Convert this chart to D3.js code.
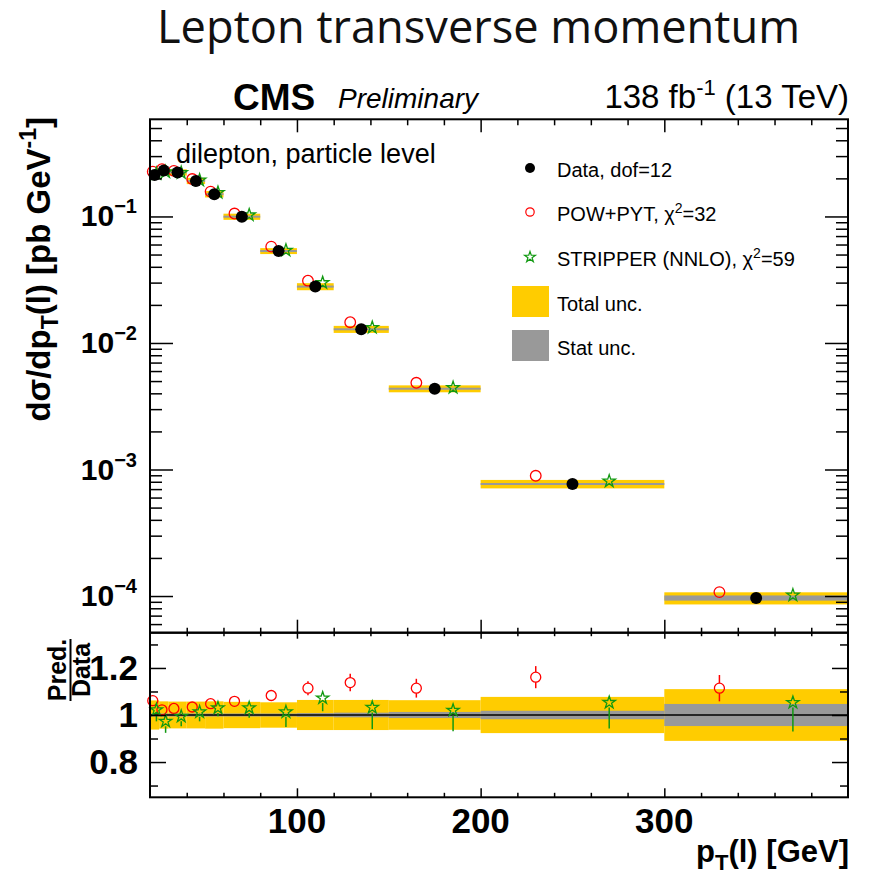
<!DOCTYPE html>
<html><head><meta charset="utf-8">
<script src="https://cdn.jsdelivr.net/npm/d3@7"></script>
<style>body{margin:0;background:#fff} svg{display:block}</style>
</head><body><svg id="c" width="871" height="877"></svg>
<script>
// ---------------- data ----------------
const binEdges = [20, 25, 30, 40, 50, 60, 80, 100, 120, 150, 200, 300, 400];
const dataXsec = [0.213, 0.231, 0.223, 0.191, 0.150, 0.0996, 0.0533, 0.0279, 0.01283, 0.00435, 0.000768, 0.0000964];
const powXsec = [0.2260, 0.2361, 0.2292, 0.1975, 0.1572, 0.1054, 0.05772, 0.03108, 0.01460, 0.004846, 0.0008916, 0.0001074];
const stripperXsec = [0.2177, 0.2248, 0.2217, 0.1935, 0.1545, 0.1026, 0.05399, 0.02991, 0.01324, 0.004437, 0.0008087, 0.0001015];
const totUnc = [0.062, 0.058, 0.057, 0.057, 0.058, 0.056, 0.054, 0.064, 0.064, 0.063, 0.077, 0.110];
const statUnc = [0.005, 0.005, 0.004, 0.004, 0.005, 0.005, 0.006, 0.008, 0.010, 0.013, 0.018, 0.047];
const powErr = [0.010, 0.010, 0.010, 0.010, 0.012, 0.015, 0.022, 0.030, 0.037, 0.040, 0.047, 0.056];
const stripperErrDown = [0.049, 0.049, 0.042, 0.040, 0.035, 0.042, 0.064, 0.056, 0.092, 0.089, 0.110, 0.123];
const stripperErrUp = [0.012, 0.012, 0.012, 0.012, 0.012, 0.012, 0.012, 0.012, 0.012, 0.012, 0.012, 0.012];
const xTickLabels = [100, 200, 300];
const yTickExps = [-1, -2, -3, -4];
const ratioTickLabels = ["0.8", "1", "1.2"];
const ratioTickValues = [0.8, 1.0, 1.2];
const legendEntries = [
  {type: "data", parts: [["Data, dof=12", 0]]},
  {type: "pow", parts: [["POW+PYT, χ", 0], ["2", 1], ["=32", 0]]},
  {type: "str", parts: [["STRIPPER (NNLO), χ", 0], ["2", 1], ["=59", 0]]},
  {type: "tot", parts: [["Total unc.", 0]]},
  {type: "stat", parts: [["Stat unc.", 0]]}
];

// ---------------- layout ----------------
const L = 150, R = 848;
const mainTop = 119.3, mainBot = 632.7, ratBot = 797.3;
const FONT = "'Liberation Sans', Arial, Helvetica, sans-serif";
const YEL = "#ffcc00", GRY = "#999999", RED = "#ff0000", GRN = "#119911";

const svg = d3.select("#c");
svg.append("rect").attr("width", 871).attr("height", 877).attr("fill", "#fff");

const x = d3.scaleLinear().domain([20, 400]).range([L, R]);
const yMain = d3.scaleLog().domain([5.13e-5, 0.586]).range([mainBot, mainTop]);
const yRat = d3.scaleLinear().domain([0.65, 1.35]).range([ratBot, mainBot]);

const bins = dataXsec.map((d, i) => {
  const lo = binEdges[i], hi = binEdges[i + 1];
  return {lo, hi, c: (lo + hi) / 2, xp: lo + 0.3 * (hi - lo), xs: lo + 0.7 * (hi - lo),
    d, pow: powXsec[i], str: stripperXsec[i], tot: totUnc[i], stat: statUnc[i],
    rp: powXsec[i] / d, rs: stripperXsec[i] / d, ep: powErr[i], esd: stripperErrDown[i], esu: stripperErrUp[i]};
});

// ---------------- main panel ----------------
const gMain = svg.append("g");
gMain.selectAll(".tot").data(bins).join("rect")
  .attr("x", b => x(b.lo)).attr("width", b => x(b.hi) - x(b.lo))
  .attr("y", b => yMain(b.d * (1 + b.tot)))
  .attr("height", b => yMain(b.d * (1 - b.tot)) - yMain(b.d * (1 + b.tot)))
  .attr("fill", YEL);
gMain.selectAll(".stat").data(bins).join("rect")
  .attr("x", b => x(b.lo)).attr("width", b => x(b.hi) - x(b.lo))
  .attr("y", b => { const h = Math.max(2, yMain(b.d * (1 - b.stat)) - yMain(b.d * (1 + b.stat))); return yMain(b.d) - h / 2; })
  .attr("height", b => Math.max(2, yMain(b.d * (1 - b.stat)) - yMain(b.d * (1 + b.stat))))
  .attr("fill", GRY);

const star = d3.symbol().type(d3.symbolStar).size(48);
gMain.selectAll(".pow").data(bins).join("circle")
  .attr("cx", b => x(b.xp)).attr("cy", b => yMain(b.pow)).attr("r", 5.3)
  .attr("fill", "none").attr("stroke", RED).attr("stroke-width", 1.3);
gMain.selectAll(".str").data(bins).join("path")
  .attr("d", star).attr("transform", b => `translate(${x(b.xs)},${yMain(b.str)})`)
  .attr("fill", "none").attr("stroke", GRN).attr("stroke-width", 1.3);
gMain.selectAll(".dat").data(bins).join("circle")
  .attr("cx", b => x(b.c)).attr("cy", b => yMain(b.d)).attr("r", 6)
  .attr("fill", "#000");

// ---------------- ratio panel ----------------
const gRat = svg.append("g");
gRat.selectAll(".rtot").data(bins).join("rect")
  .attr("x", b => x(b.lo)).attr("width", b => x(b.hi) - x(b.lo))
  .attr("y", b => yRat(1 + b.tot)).attr("height", b => yRat(1 - b.tot) - yRat(1 + b.tot))
  .attr("fill", YEL);
gRat.selectAll(".rstat").data(bins).join("rect")
  .attr("x", b => x(b.lo)).attr("width", b => x(b.hi) - x(b.lo))
  .attr("y", b => { const h = Math.max(3, yRat(1 - b.stat) - yRat(1 + b.stat)); return yRat(1) - h / 2; })
  .attr("height", b => Math.max(3, yRat(1 - b.stat) - yRat(1 + b.stat)))
  .attr("fill", GRY);
gRat.append("line").attr("x1", L).attr("x2", R).attr("y1", yRat(1)).attr("y2", yRat(1))
  .attr("stroke", "#000").attr("stroke-width", 1.5);

const rc = 5;
bins.forEach(b => {
  const cx = x(b.xp), cy = yRat(b.rp);
  const top = yRat(b.rp + b.ep), bot = yRat(b.rp - b.ep);
  if (top < cy - rc) gRat.append("line").attr("x1", cx).attr("x2", cx).attr("y1", top).attr("y2", cy - rc).attr("stroke", RED).attr("stroke-width", 1.5);
  if (bot > cy + rc) gRat.append("line").attr("x1", cx).attr("x2", cx).attr("y1", cy + rc).attr("y2", bot).attr("stroke", RED).attr("stroke-width", 1.5);
  const sx = x(b.xs), sy = yRat(b.rs);
  const st = yRat(b.rs + b.esu), sb = yRat(b.rs - b.esd);
  if (st < sy - 6) gRat.append("line").attr("x1", sx).attr("x2", sx).attr("y1", st).attr("y2", sy - 6).attr("stroke", GRN).attr("stroke-width", 1.5);
  if (sb > sy + 5) gRat.append("line").attr("x1", sx).attr("x2", sx).attr("y1", sy + 5).attr("y2", sb).attr("stroke", GRN).attr("stroke-width", 1.5);
});
gRat.selectAll(".rpow").data(bins).join("circle")
  .attr("cx", b => x(b.xp)).attr("cy", b => yRat(b.rp)).attr("r", rc)
  .attr("fill", "none").attr("stroke", RED).attr("stroke-width", 1.3);
gRat.selectAll(".rstr").data(bins).join("path")
  .attr("d", star).attr("transform", b => `translate(${x(b.xs)},${yRat(b.rs)})`)
  .attr("fill", "none").attr("stroke", GRN).attr("stroke-width", 1.3);

// ---------------- axes / ticks ----------------
function ticks(axisFn, scale, vals, size, tx, ty) {
  const g = svg.append("g").attr("transform", `translate(${tx},${ty})`)
    .call(axisFn(scale).tickValues(vals).tickSize(size).tickFormat(""));
  g.select(".domain").remove();
  g.selectAll("line").attr("stroke", "#000").attr("stroke-width", 1.5);
}
const yMajor = [1e-4, 1e-3, 1e-2, 1e-1];
const yMinor = [];
[-5, -4, -3, -2, -1].forEach(e => { for (let k = 2; k <= 9; k++) { const v = k * Math.pow(10, e); if (v > 5.13e-5 && v < 0.586) yMinor.push(v); } });
const xMinor = d3.range(40, 400, 20).filter(v => v % 100 !== 0);
const xMajor = [100, 200, 300];
ticks(d3.axisLeft, yMain, yMajor, -23, L, 0);
ticks(d3.axisLeft, yMain, yMinor, -12, L, 0);
ticks(d3.axisRight, yMain, yMajor, -23, R, 0);
ticks(d3.axisRight, yMain, yMinor, -12, R, 0);
ticks(d3.axisTop, x, xMajor, -13, 0, mainTop);
ticks(d3.axisTop, x, xMinor, -6, 0, mainTop);
ticks(d3.axisBottom, x, xMajor, -13, 0, mainBot);
ticks(d3.axisBottom, x, xMinor, -5, 0, mainBot);
// ratio
const rMinor = [0.7, 0.9, 1.1, 1.3];
ticks(d3.axisLeft, yRat, ratioTickValues, -16, L, 0);
ticks(d3.axisLeft, yRat, rMinor, -8, L, 0);
ticks(d3.axisRight, yRat, ratioTickValues, -16, R, 0);
ticks(d3.axisRight, yRat, rMinor, -8, R, 0);
ticks(d3.axisTop, x, xMajor, -6, 0, mainBot);
ticks(d3.axisTop, x, xMinor, -3.5, 0, mainBot);
ticks(d3.axisBottom, x, xMajor, -9, 0, ratBot);
ticks(d3.axisBottom, x, xMinor, -4.5, 0, ratBot);

// frames
svg.append("rect").attr("x", L).attr("y", mainTop).attr("width", R - L).attr("height", mainBot - mainTop)
  .attr("fill", "none").attr("stroke", "#000").attr("stroke-width", 2);
svg.append("rect").attr("x", L).attr("y", mainBot).attr("width", R - L).attr("height", ratBot - mainBot)
  .attr("fill", "none").attr("stroke", "#000").attr("stroke-width", 2);

// tick labels
const TL = 30, TR = 35;
yTickExps.forEach(e => {
  const t = svg.append("text").attr("x", 137).attr("y", yMain(Math.pow(10, e)) + 10)
    .attr("text-anchor", "end").attr("font-family", FONT).attr("font-weight", "bold").attr("font-size", TL);
  t.append("tspan").text("10");
  t.append("tspan").attr("dy", -13).attr("font-size", 20).text("\u2212" + Math.abs(e));
});
ratioTickValues.forEach((v, i) => {
  svg.append("text").attr("x", 138).attr("y", yRat(v) + 12)
    .attr("text-anchor", "end").attr("font-family", FONT).attr("font-weight", "bold").attr("font-size", TR)
    .text(ratioTickLabels[i]);
});
xTickLabels.forEach(v => {
  svg.append("text").attr("x", x(v)).attr("y", 833)
    .attr("text-anchor", "middle").attr("font-family", FONT).attr("font-weight", "bold").attr("font-size", TR)
    .text(v);
});

// axis titles
const xt = svg.append("text").attr("x", 849).attr("y", 862).attr("text-anchor", "end")
  .attr("font-family", FONT).attr("font-weight", "bold").attr("font-size", 31);
xt.append("tspan").text("p");
xt.append("tspan").attr("dy", 8).attr("font-size", 22).text("T");
xt.append("tspan").attr("dy", -8).text("(l) [GeV]");

const yt = svg.append("text").attr("transform", "translate(50,117) rotate(-90)").attr("text-anchor", "end")
  .attr("font-family", FONT).attr("font-weight", "bold").attr("font-size", 33);
yt.append("tspan").text("dσ/dp");
yt.append("tspan").attr("dy", 8).attr("font-size", 23).text("T");
yt.append("tspan").attr("dy", -8).text("(l) [pb GeV");
yt.append("tspan").attr("dy", -14).attr("font-size", 23).text("-1");
yt.append("tspan").attr("dy", 14).text("]");

const rt = svg.append("g").attr("transform", "translate(-3,670) rotate(-90)");
rt.append("text").attr("x", 0).attr("y", 69).attr("text-anchor", "middle")
  .attr("font-family", FONT).attr("font-weight", "bold").attr("font-size", 25).text("Pred.");
rt.append("line").attr("x1", -31).attr("x2", 31).attr("y1", 73.5).attr("y2", 73.5).attr("stroke", "#000").attr("stroke-width", 2);
rt.append("text").attr("x", 0).attr("y", 93).attr("text-anchor", "middle")
  .attr("font-family", FONT).attr("font-weight", "bold").attr("font-size", 25).text("Data");

// header
const title = svg.append("text").attr("x", 478.5).attr("y", 43).attr("text-anchor", "middle")
  .attr("font-family", "'Open Sans', 'Noto Sans', sans-serif").attr("font-size", 40).attr("fill", "#111")
  .text("Lepton transverse momentum");
const tl = title.node().getComputedTextLength();
title.attr("font-size", 40 * 643 / tl);

svg.append("text").attr("x", 233).attr("y", 110).attr("font-family", FONT).attr("font-weight", "bold")
  .attr("font-size", 37).text("CMS");
svg.append("text").attr("x", 338).attr("y", 108).attr("font-family", FONT).attr("font-style", "italic")
  .attr("font-size", 28).text("Preliminary");
const lumi = svg.append("text").attr("x", 849).attr("y", 108).attr("text-anchor", "end")
  .attr("font-family", FONT).attr("font-size", 33);
lumi.append("tspan").text("138 fb");
lumi.append("tspan").attr("dy", -13).attr("font-size", 22).text("-1");
lumi.append("tspan").attr("dy", 13).text(" (13 TeV)");

svg.append("text").attr("x", 176).attr("y", 163).attr("font-family", FONT).attr("font-size", 27)
  .text("dilepton, particle level");

// legend
const legY = [168, 212, 257, 302, 346];
legendEntries.forEach((e, i) => {
  const cy = legY[i];
  if (e.type === "data") svg.append("circle").attr("cx", 530).attr("cy", cy).attr("r", 5).attr("fill", "#000");
  if (e.type === "pow") svg.append("circle").attr("cx", 530).attr("cy", cy).attr("r", 4.2).attr("fill", "none").attr("stroke", RED).attr("stroke-width", 1.2);
  if (e.type === "str") svg.append("path").attr("d", d3.symbol().type(d3.symbolStar).size(36)).attr("transform", `translate(530,${cy})`).attr("fill", "none").attr("stroke", GRN).attr("stroke-width", 1.2);
  if (e.type === "tot") svg.append("rect").attr("x", 512).attr("y", cy - 16).attr("width", 37).attr("height", 31).attr("fill", YEL);
  if (e.type === "stat") svg.append("rect").attr("x", 512).attr("y", cy - 16).attr("width", 37).attr("height", 31).attr("fill", GRY);
  const t = svg.append("text").attr("x", 557).attr("y", cy + 8.5).attr("font-family", FONT).attr("font-size", 20);
  e.parts.forEach(([s, sup], k) => {
    const sp = t.append("tspan").text(s);
    if (sup) sp.attr("dy", -8).attr("font-size", 14);
    else if (k > 0 && e.parts[k - 1][1]) sp.attr("dy", 8);
  });
});
</script></body></html>
